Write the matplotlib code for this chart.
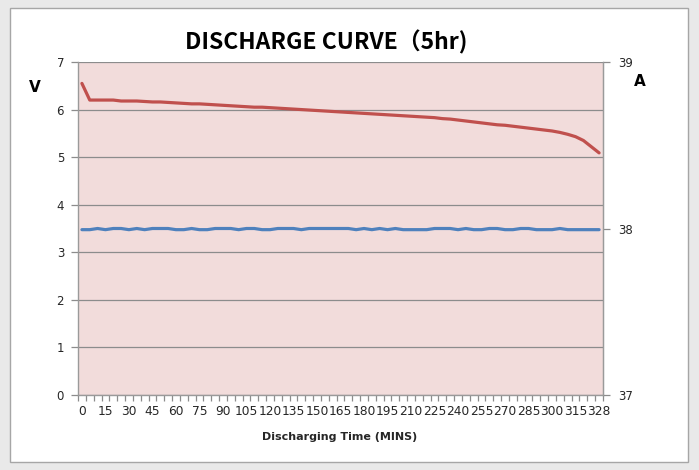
import matplotlib
matplotlib.use("Agg")
import matplotlib.pyplot as plt
from matplotlib.patches import Rectangle
from matplotlib.ticker import FixedLocator, NullFormatter

# ---------------- data ----------------
times = [0, 5, 10, 15, 20, 25, 30, 35, 40, 45, 50, 55, 60, 65, 70, 75, 80, 85, 90,
         95, 100, 105, 110, 115, 120, 125, 130, 135, 140, 145, 150, 155, 160, 165,
         170, 175, 180, 185, 190, 195, 200, 205, 210, 215, 220, 225, 230, 235, 240,
         245, 250, 255, 260, 265, 270, 275, 280, 285, 290, 295, 300, 305, 310, 315,
         320, 325, 328]
voltage = [6.55, 6.20, 6.20, 6.20, 6.20, 6.18, 6.18, 6.18, 6.17, 6.16, 6.16, 6.15,
           6.14, 6.13, 6.12, 6.12, 6.11, 6.10, 6.09, 6.08, 6.07, 6.06, 6.05, 6.05,
           6.04, 6.03, 6.02, 6.01, 6.00, 5.99, 5.98, 5.97, 5.96, 5.95, 5.94, 5.93,
           5.92, 5.91, 5.90, 5.89, 5.88, 5.87, 5.86, 5.85, 5.84, 5.83, 5.81, 5.80,
           5.78, 5.76, 5.74, 5.72, 5.70, 5.68, 5.67, 5.65, 5.63, 5.61, 5.59, 5.57,
           5.55, 5.52, 5.48, 5.43, 5.35, 5.22, 5.09]
current = [37.993, 37.993, 38.000, 37.993, 38.000, 38.000, 37.993, 38.000, 37.993,
           38.000, 38.000, 38.000, 37.993, 37.993, 38.000, 37.993, 37.993, 38.000,
           38.000, 38.000, 37.993, 38.000, 38.000, 37.993, 37.993, 38.000, 38.000,
           38.000, 37.993, 38.000, 38.000, 38.000, 38.000, 38.000, 38.000, 37.993,
           38.000, 37.993, 38.000, 37.993, 38.000, 37.993, 37.993, 37.993, 37.993,
           38.000, 38.000, 38.000, 37.993, 38.000, 37.993, 37.993, 38.000, 38.000,
           37.993, 37.993, 38.000, 38.000, 37.993, 37.993, 37.993, 38.000, 37.993,
           37.993, 37.993, 37.993, 37.993]
label_step = 3
v_ticks = [0, 1, 2, 3, 4, 5, 6, 7]
a_ticks = [37, 38, 39]

title = "DISCHARGE CURVE（5hr)"
xlabel = "Discharging Time (MINS)"

# ---------------- figure ----------------
W, H = 699, 470
fig = plt.figure(figsize=(W / 100, H / 100), dpi=100, facecolor="#e9e9e9")
card = Rectangle((10 / W, 1 - 462 / H), (688 - 10) / W, (462 - 8) / H,
                 transform=fig.transFigure, facecolor="white",
                 edgecolor="#a6a6a6", linewidth=1.0, zorder=-5)
fig.patches.append(card)

ax = fig.add_axes([78 / W, 1 - 395 / H, (603 - 78) / W, (395 - 62) / H])
ax.set_facecolor("#F2DCDB")
n = len(times)
xs = list(range(n))

ax.plot(xs, voltage, color="#C0504D", lw=2.3, solid_capstyle="round", zorder=3)
ax.set_ylim(0, 7)
ax.set_xlim(-0.5, n - 0.5)
ax.set_yticks(v_ticks)
ax.grid(axis="y", color="#8c8c8c", lw=0.9)
ax.set_axisbelow(True)

# x ticks: boundaries as tick marks, labels every 3rd category
ax.xaxis.set_minor_locator(FixedLocator([i - 0.5 for i in range(n + 1)]))
ax.xaxis.set_minor_formatter(NullFormatter())
ax.set_xticks(xs[::label_step])
ax.set_xticklabels([str(t) for t in times[::label_step]])
ax.tick_params(axis="x", which="major", length=0, pad=7, labelsize=8.8,
               labelcolor="#262626")
ax.tick_params(axis="x", which="minor", length=4, color="#8c8c8c", width=0.9)
ax.tick_params(axis="y", length=5, color="#8c8c8c", width=0.9, labelsize=8.5,
               labelcolor="#262626", pad=5)

ax.spines["top"].set_visible(False)
for s in ["left", "right", "bottom"]:
    ax.spines[s].set_color("#9a9a9a")
    ax.spines[s].set_linewidth(1.0)

ax2 = ax.twinx()
ax2.plot(xs, current, color="#4F81BD", lw=2.3, solid_capstyle="round", zorder=3)
ax2.set_ylim(37, 39)
ax2.set_yticks(a_ticks)
ax2.tick_params(axis="y", length=5, color="#8c8c8c", width=0.9, labelsize=8.5,
                labelcolor="#262626", pad=6)
for s in ["top", "left", "bottom"]:
    ax2.spines[s].set_visible(False)
ax2.spines["right"].set_color("#9a9a9a")

fig.text(326 / W, 1 - 42 / H, title, ha="center", va="center", fontsize=16.5,
         fontweight="bold", family=["Liberation Sans Narrow", "Noto Sans CJK SC"],
         color="black")
fig.text(35 / W, 1 - 87 / H, "V", ha="center", va="center", fontsize=11,
         fontweight="bold", family="DejaVu Sans")
fig.text(640 / W, 1 - 81 / H, "A", ha="center", va="center", fontsize=11,
         fontweight="bold", family="DejaVu Sans")
fig.text(340 / W, 1 - 437 / H, xlabel, ha="center", va="center", fontsize=8,
         fontweight="bold", family="DejaVu Sans", color="#262626")

fig.savefig("out.png", dpi=100, facecolor=fig.get_facecolor())
